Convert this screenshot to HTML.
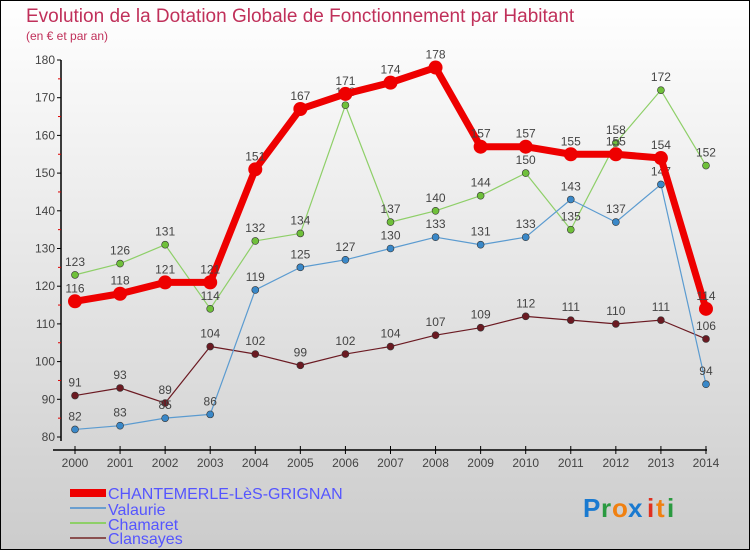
<!DOCTYPE html>
<html><head><meta charset="utf-8"><style>
body{margin:0;}
#c{width:748px;height:548px;border:1px solid #000;background:linear-gradient(#fff,#ccc);position:relative;overflow:hidden;font-family:"Liberation Sans",sans-serif;}
</style></head><body><div id="c">
<svg id="s" width="748" height="548" viewBox="1 1 748 548" xmlns="http://www.w3.org/2000/svg" font-family="Liberation Sans, sans-serif">
<text x="26" y="22" font-size="19" fill="#c0305a">Evolution de la Dotation Globale de Fonctionnement par Habitant</text>
<text x="26" y="40" font-size="12" fill="#c0305a">(en € et par an)</text>
<line x1="61" y1="60" x2="61" y2="441" stroke="#000" stroke-width="1.5"/>
<line x1="53" y1="450" x2="707" y2="450" stroke="#000" stroke-width="1.5"/>
<g id="g"></g>
<rect x="70" y="489" width="36" height="8" fill="#e00"/>
<line x1="70" y1="508" x2="106" y2="508" stroke="#6a9ecf" stroke-width="2"/>
<line x1="70" y1="523" x2="106" y2="523" stroke="#8ecf68" stroke-width="2"/>
<line x1="70" y1="538" x2="106" y2="538" stroke="#8a5050" stroke-width="2"/>
<g font-size="16" fill="#5555ff">
<text x="108" y="499">CHANTEMERLE-LèS-GRIGNAN</text>
<text x="108" y="515">Valaurie</text>
<text x="108" y="530">Chamaret</text>
<text x="108" y="544">Clansayes</text>
</g>
<g font-size="26" font-weight="bold">
<text x="583" y="517" fill="#1a7ad0">P</text><text x="601" y="517" fill="#2a9a40">r</text><text x="612" y="517" fill="#f08010">o</text><text x="628" y="517" fill="#1a7ad0">x</text><text x="647" y="517" fill="#e03020">i</text><text x="656" y="517" fill="#f08010">t</text><text x="667" y="517" fill="#2a9a40">i</text>
</g>
</svg></div>
<script>
var g=document.getElementById('g'),h='';
function X(i){return 75+i*45.07}function Y(v){return 437-(v-80)*3.77}
for(var v=80;v<=180;v+=10){var y=Y(v);h+='<line x1="57" y1="'+y+'" x2="61" y2="'+y+'" stroke="#000"/><text x="55" y="'+(y+4)+'" font-size="12" fill="#444" text-anchor="end">'+v+'</text>';if(v<180)h+='<line x1="58" y1="'+(y-18.85)+'" x2="61" y2="'+(y-18.85)+'" stroke="#d00"/>';}
for(var i=0;i<15;i++){var x=X(i);h+='<line x1="'+x+'" y1="446" x2="'+x+'" y2="454" stroke="#000"/><text x="'+x+'" y="467" font-size="12" fill="#444" text-anchor="middle">'+(2000+i)+'</text>';}
var S=[
[[91,93,89,104,102,99,102,104,107,109,112,111,110,111,106],'#6b1a22','#6b1a22',1.2,3.5],
[[123,126,131,114,132,134,168,137,140,144,150,135,158,172,152],'#8ecf68','#6fc03a',1.2,3.5],
[[82,83,85,86,119,125,127,130,133,131,133,143,137,147,94],'#5b9bd0','#3a88c8',1.2,3.5],
[[116,118,121,121,151,167,171,174,178,157,157,155,155,154,114],'#ee0000','#ee0000',7,7]];
S.forEach(function(s){var d=s[0],p=d.map(function(v,i){return X(i)+','+Y(v)}).join(' ');
h+='<polyline points="'+p+'" fill="none" stroke="'+s[1]+'" stroke-width="'+s[3]+'" stroke-linejoin="round"/>';
d.forEach(function(v,i){h+='<circle cx="'+X(i)+'" cy="'+Y(v)+'" r="'+s[4]+'" fill="'+s[2]+'" stroke="#333" stroke-width="'+(s[4]>5?0:0.6)+'"/>';
h+='<text x="'+X(i)+'" y="'+(Y(v)-9)+'" font-size="12" fill="#444" text-anchor="middle">'+v+'</text>';});});
g.innerHTML=h;
</script>
</body></html>
